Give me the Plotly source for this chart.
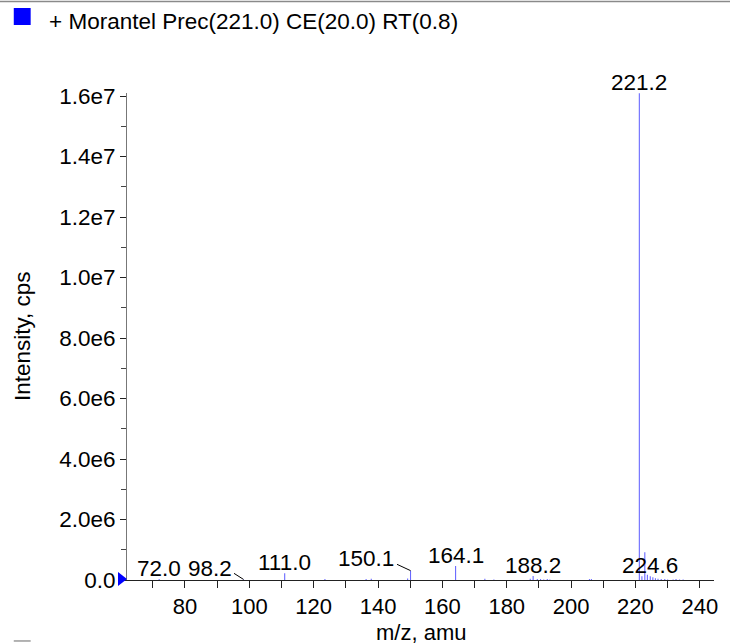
import plotly.graph_objects as go

# ---- data ----
mz = [72.0, 98.2, 111.0, 123.5, 136.3, 137.9, 149.2, 150.1, 164.1, 173.2, 176.0,
      187.3, 188.2, 189.5, 190.5, 191.5, 192.6, 193.4, 205.7, 206.3,
      221.2, 222.0, 222.9, 223.7, 224.6, 225.4, 226.2, 227.0, 228.0, 229.1, 230.0,
      231.7, 232.6, 233.7, 234.8]
intensity = [3.0e4, 2.0e4, 2.2e5, 3.0e4, 3.0e4, 4.0e4, 5.0e4, 3.1e5, 4.6e5, 4.0e4, 2.0e4,
             4.0e4, 1.3e5, 3.0e4, 3.0e4, 2.0e4, 3.0e4, 2.0e4, 3.0e4, 3.0e4,
             1.609e7, 1.2e5, 9.2e5, 1.7e5, 1.2e5, 9.0e4, 6.0e4, 4.0e4, 3.0e4, 3.0e4, 2.0e4,
             2.0e4, 3.0e4, 2.0e4, 2.0e4]
label_mz = [72.0, 98.2, 111.0, 150.1, 164.1, 188.2, 221.2, 224.6]
label_text = ["72.0", "98.2", "111.0", "150.1", "164.1", "188.2", "221.2", "224.6"]
x_tickvals = [80, 100, 120, 140, 160, 180, 200, 220, 240]
y_tickvals = [0, 2e6, 4e6, 6e6, 8e6, 1.0e7, 1.2e7, 1.4e7, 1.6e7]
y_ticktext = ["0.0", "2.0e6", "4.0e6", "6.0e6", "8.0e6", "1.0e7", "1.2e7", "1.4e7", "1.6e7"]
x_range = [62.0, 244.4]
y_range = [0, 1.61e7]
title_text = "+ Morantel Prec(221.0) CE(20.0) RT(0.8)"
x_title = "m/z, amu"
y_title = "Intensity, cps"

FONT = "Liberation Sans, Arial, Helvetica, sans-serif"
FS = 22.5

# ---- stick spectrum ----
xs, ys = [], []
for m, h in zip(mz, intensity):
    xs += [m, m, None]
    ys += [0, h, None]

fig = go.Figure()
fig.add_trace(go.Scatter(x=xs, y=ys, mode="lines",
                         line=dict(color="rgb(105,105,255)", width=1.1),
                         hoverinfo="skip", showlegend=False))

# ---- peak labels ----
peak_h = dict(zip(mz, intensity))
# label offsets (pixels) for labels moved aside with a leader line
label_shift = {98.2: (-34, -4), 150.1: (-45, -2)}
leader = {98.2: (-11, -7), 150.1: (-15, -7)}
annotations = []
for m, t in zip(label_mz, label_text):
    h = peak_h.get(m, 0)
    dx, dy = label_shift.get(m, (0, -4))
    annotations.append(dict(x=m, y=h, text=t, showarrow=False, xanchor="center",
                            yanchor="bottom", xshift=dx, yshift=dy,
                            font=dict(family=FONT, size=FS, color="black")))
    if m in leader:
        lx, ly = leader[m]
        annotations.append(dict(x=m, y=h, text="", showarrow=True, arrowhead=0,
                                arrowwidth=1, arrowcolor="black", ax=lx, ay=ly,
                                standoff=0, startstandoff=0))

# legend-like title and axis titles
annotations.append(dict(xref="paper", yref="paper", x=-0.1365, y=1.1458, text=title_text,
                        showarrow=False, xanchor="left", yanchor="middle",
                        font=dict(family=FONT, size=FS, color="black")))
annotations.append(dict(xref="paper", yref="paper", x=-0.178, y=0.5, text=y_title,
                        textangle=-90, showarrow=False, xanchor="center", yanchor="middle",
                        font=dict(family=FONT, size=FS, color="black")))
annotations.append(dict(xref="paper", yref="paper", x=0.5, y=-0.1068, text=x_title,
                        showarrow=False, xanchor="center", yanchor="middle",
                        font=dict(family=FONT, size=22, color="black")))

shapes = [
    # top separator line
    dict(type="line", xref="paper", yref="paper", x0=-0.22, x1=1.03, y0=1.188, y1=1.188,
         line=dict(color="#8a8a8a", width=1.5)),
    # legend square
    dict(type="rect", xref="paper", yref="paper", x0=-0.1929, x1=-0.1641, y0=1.1396, y1=1.1745,
         fillcolor="#0000ff", line=dict(color="#0000ff", width=0)),
    # piece of next panel square at bottom-left
    dict(type="line", xref="paper", yref="paper", x0=-0.1929, x1=-0.1641, y0=-0.1252, y1=-0.1252,
         line=dict(color="#9a9a9a", width=1.5)),
    # blue marker triangle at origin
    dict(type="path", xref="paper", yref="paper", xsizemode="pixel", ysizemode="pixel",
         xanchor=0, yanchor=0, path="M -9,-6 L 0,1 L -9,8 Z",
         fillcolor="#0000ff", line=dict(color="#0000ff", width=0)),
]

fig.update_layout(
    width=730, height=644,
    margin=dict(l=127, r=12, t=93, b=64),
    paper_bgcolor="white", plot_bgcolor="white",
    font=dict(family=FONT, size=FS, color="black"),
    annotations=annotations, shapes=shapes,
    showlegend=False,
)
fig.update_xaxes(range=x_range, tickvals=x_tickvals, ticks="outside", ticklen=7,
                 tickcolor="#222", tickwidth=1, showline=True, linecolor="#222", linewidth=1,
                 showgrid=False, zeroline=False,
                 tickfont=dict(family=FONT, size=22, color="black"),
                 minor=dict(dtick=10, tick0=0, ticks="outside", ticklen=7, tickcolor="#222",
                            showgrid=False))
fig.update_yaxes(range=y_range, tickvals=y_tickvals, ticktext=y_ticktext, ticks="outside",
                 ticklen=6, tickcolor="#222", tickwidth=1, showline=True, linecolor="#777",
                 linewidth=1, showgrid=False, zeroline=False,
                 tickfont=dict(family=FONT, size=FS, color="black"),
                 minor=dict(dtick=1e6, tick0=0, ticks="outside", ticklen=5, tickcolor="#444",
                            showgrid=False))

fig.write_html("out.html", config={"displayModeBar": False, "staticPlot": True},
               post_script="document.body.style.margin='0px';document.body.style.overflow='hidden';")
